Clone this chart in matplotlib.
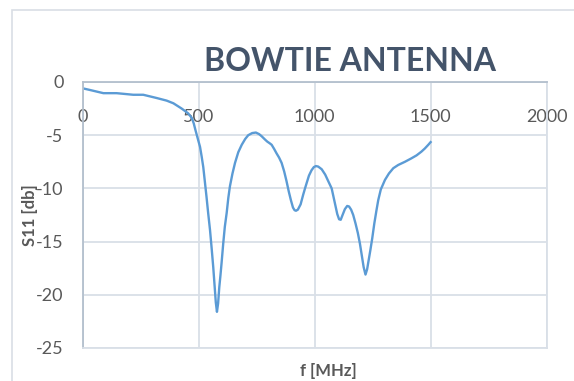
import numpy as np
import matplotlib.pyplot as plt
from matplotlib.patches import Rectangle

# S11
freq = [0, 30, 59, 88, 145, 217, 260, 317, 361, 390, 426, 454, 470, 478, 485, 495,
        505, 512, 519, 526, 533, 540, 548, 555, 562, 568, 573, 578, 583, 588, 593, 598,
        605, 612, 620, 627, 634, 645, 656, 670, 685, 700, 713, 730, 746, 760, 771, 785,
        795, 805, 814, 825, 835, 846, 857, 868, 878, 888, 897, 906, 913, 919, 927, 933,
        939, 950, 958, 965, 975, 986, 996, 1005, 1015, 1030, 1045, 1060, 1073, 1085,
        1097, 1105, 1112, 1120, 1130, 1140, 1148, 1157, 1166, 1176, 1186, 1195, 1203,
        1211, 1219, 1226, 1233, 1240, 1248, 1257, 1266, 1274, 1285, 1295, 1303, 1320,
        1339, 1360, 1389, 1415, 1439, 1460, 1475, 1490, 1500]
s11 = [-0.6, -0.75, -0.9, -1.05, -1.05, -1.2, -1.2, -1.5, -1.75, -2.0, -2.5, -2.95, -3.4,
       -3.9, -4.5, -5.3, -6.1, -7.0, -8.0, -9.4, -10.8, -12.3, -13.9, -15.6, -17.4, -19.2,
       -20.7, -21.6, -20.8, -19.3, -18.2, -17.0, -15.2, -13.6, -12.3, -10.9, -9.8, -8.6,
       -7.6, -6.6, -5.9, -5.35, -5.0, -4.8, -4.75, -4.9, -5.1, -5.4, -5.6, -5.75, -5.9,
       -6.3, -6.7, -7.1, -7.6, -8.4, -9.3, -10.3, -11.1, -11.8, -12.05, -12.1, -12.0,
       -11.75, -11.5, -10.6, -10.0, -9.5, -8.8, -8.3, -8.0, -7.9, -7.95, -8.2, -8.7, -9.4,
       -10.0, -11.2, -12.4, -12.9, -12.95, -12.5, -11.95, -11.65, -11.7, -12.0, -12.5,
       -13.3, -14.2, -15.2, -16.3, -17.4, -18.1, -17.6, -16.7, -15.8, -14.7, -13.3, -12.1,
       -11.1, -10.1, -9.6, -9.2, -8.6, -8.1, -7.8, -7.5, -7.2, -6.9, -6.55, -6.25, -5.9,
       -5.65]

xticks = [0, 500, 1000, 1500, 2000]
yticks = [0, -5, -10, -15, -20, -25]

grid_c = '#d9dfe7'
axis_c = '#b3bfcd'
text_c = '#595959'

plt.rcParams['font.family'] = ['Lato', 'DejaVu Sans']
plt.rcParams['axes.unicode_minus'] = False
fig = plt.figure(figsize=(5.74, 3.81), dpi=100)

# outer chart frame (cut off at right and bottom)
fig.patches.append(Rectangle((11.5 / 574, -0.1), 1.2, 1 - 10.5 / 381 + 0.1,
                             transform=fig.transFigure, fill=False,
                             edgecolor='#d9dee5', linewidth=1.2))

ax = fig.add_axes([83 / 574, 1 - 348 / 381, (546.5 - 83) / 574, (348 - 82) / 381])
ax.plot(freq, s11, color='#5b9bd5', linewidth=1.7, solid_joinstyle='round')

ax.set_xlim(0, 2000)
ax.set_ylim(-25, 0)
ax.set_xticks(xticks)
ax.set_yticks(yticks)
ax.grid(True, color=grid_c, linewidth=1.3)
ax.set_axisbelow(True)

for s in ['right', 'bottom']:
    ax.spines[s].set_color(grid_c)
    ax.spines[s].set_linewidth(1.3)
for s in ['left', 'top']:
    ax.spines[s].set_color(axis_c)
    ax.spines[s].set_linewidth(1.3)

ax.xaxis.set_ticks_position('top')
ax.tick_params(axis='x', length=0, pad=-31, labelsize=13, labelcolor=text_c)
ax.tick_params(axis='y', length=0, pad=14, labelsize=13, labelcolor=text_c)

fig.text(350 / 574, 1 - 71 / 381, 'BOWTIE ANTENNA', ha='center', va='baseline',
         fontsize=23, fontweight='bold', color='#44546a')
fig.text(30 / 574, 1 - 215 / 381, 'S11 [db]', rotation=90, ha='center', va='center',
         fontsize=12, fontweight='bold', color=text_c)
fig.text(328 / 574, 1 - 376 / 381, 'f [MHz]', ha='center', va='baseline',
         fontsize=12, fontweight='bold', color=text_c)

fig.savefig('out.png', dpi=100)
